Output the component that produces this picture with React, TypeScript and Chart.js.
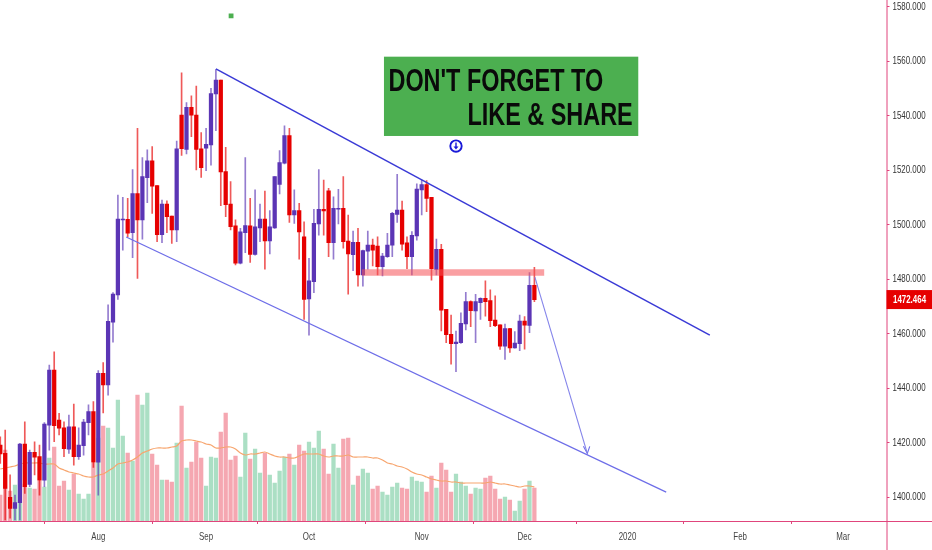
import React, { useEffect, useRef } from "react";
import { Chart, registerables } from "chart.js";

Chart.register(...registerables);

const opens = [1419.1,1416.0,1399.9,1395.8,1397.9,1419.4,1404.6,1416.4,1414.8,1406.2,1426.4,1446.6,1428.2,1425.4,1417.6,1425.8,1414.8,1418.8,1427.3,1431.4,1412.8,1445.4,1441.1,1464.2,1474.2,1501.7,1501.9,1497.0,1511.4,1501.7,1517.2,1523.4,1514.3,1496.3,1507.5,1503.1,1498.0,1540.2,1527.6,1543.0,1540.2,1527.8,1528.0,1529.2,1547.9,1553.0,1519.4,1507.5,1499.5,1485.8,1497.0,1499.5,1489.0,1498.8,1502.0,1494.0,1498.8,1514.7,1522.5,1532.6,1503.5,1505.1,1495.5,1472.7,1479.0,1500.2,1505.6,1512.4,1493.3,1505.6,1505.9,1493.9,1488.9,1493.5,1481.5,1490.2,1492.5,1492.1,1484.5,1488.2,1492.4,1503.7,1505.3,1493.3,1488.2,1495.8,1512.7,1514.7,1510.0,1483.5,1490.9,1468.9,1459.7,1456.3,1456.6,1463.5,1471.7,1468.3,1471.3,1472.9,1472.1,1464.9,1463.2,1455.4,1461.8,1454.7,1456.3,1464.6,1463.0,1477.7];
const closes = [1415.8,1403.2,1395.8,1398.0,1419.4,1403.8,1416.4,1414.6,1406.2,1426.8,1446.6,1426.2,1425.3,1417.7,1425.8,1414.8,1419.1,1427.5,1431.4,1412.8,1445.4,1441.1,1464.5,1474.5,1502.0,1502.0,1496.8,1511.4,1501.7,1517.6,1523.4,1514.1,1496.3,1507.5,1502.9,1498.0,1527.8,1527.8,1543.0,1540.1,1527.6,1520.9,1529.4,1548.1,1553.0,1519.3,1507.3,1499.2,1485.8,1497.3,1499.6,1489.0,1499.2,1502.0,1494.0,1499.2,1517.6,1522.7,1532.6,1503.5,1505.1,1497.3,1472.5,1479.3,1500.4,1505.6,1505.0,1493.3,1505.9,1505.9,1493.7,1489.2,1493.5,1481.5,1490.4,1492.5,1490.6,1484.5,1488.4,1492.5,1504.1,1505.3,1492.8,1488.2,1496.0,1513.0,1514.7,1509.6,1483.8,1490.9,1468.6,1459.6,1456.3,1456.9,1463.7,1471.7,1468.4,1471.7,1472.9,1471.7,1464.7,1462.9,1455.4,1461.8,1454.7,1456.5,1464.6,1463.1,1477.7,1472.464];
const highs = [1422.1,1424.6,1408.1,1400.7,1419.7,1427.6,1417.2,1420.3,1419.1,1427.3,1448.4,1453.3,1430.7,1427.6,1430.1,1434.1,1425.4,1428.5,1433.8,1435.0,1446.4,1449.3,1470.5,1475.0,1510.8,1510.0,1509.6,1520.2,1535.3,1524.6,1527.4,1528.6,1514.3,1509.0,1508.7,1503.1,1530.6,1555.7,1544.8,1547.2,1550.8,1533.7,1535.3,1550.0,1556.9,1553.0,1528.3,1515.8,1501.7,1498.6,1524.6,1509.6,1512.7,1507.5,1512.3,1505.1,1517.6,1527.1,1536.2,1535.3,1512.7,1507.8,1501.0,1487.6,1505.6,1520.2,1516.3,1513.3,1510.2,1512.9,1517.6,1503.5,1497.6,1498.6,1490.6,1497.6,1494.7,1495.5,1489.4,1496.8,1504.5,1518.4,1508.6,1495.5,1497.4,1514.9,1516.3,1516.1,1510.0,1494.7,1492.7,1468.9,1466.8,1460.9,1467.6,1475.1,1472.0,1474.4,1473.1,1479.3,1476.0,1473.8,1463.2,1463.5,1461.9,1460.7,1466.8,1466.2,1482.4,1484.3];
const lows = [1412.3,1391.6,1392.2,1391.6,1391.6,1401.3,1403.8,1408.1,1400.7,1403.8,1417.2,1420.3,1422.8,1414.8,1416.0,1411.7,1413.8,1415.4,1422.8,1410.9,1400.7,1430.9,1437.4,1456.8,1472.5,1490.6,1495.5,1487.8,1480.2,1494.6,1508.0,1504.1,1493.7,1493.3,1497.0,1493.1,1493.7,1525.4,1525.9,1532.2,1520.0,1517.3,1519.8,1521.8,1534.4,1506.9,1502.9,1498.0,1485.2,1485.5,1489.7,1486.1,1488.8,1493.7,1483.6,1489.2,1498.6,1511.2,1522.2,1500.8,1500.4,1487.3,1465.2,1459.4,1475.0,1496.1,1496.1,1488.2,1487.3,1500.2,1491.3,1474.4,1483.1,1477.4,1477.4,1483.6,1484.8,1481.5,1481.1,1487.9,1488.2,1500.8,1490.6,1483.8,1481.5,1494.3,1503.5,1504.7,1479.6,1481.5,1461.0,1456.6,1448.8,1446.0,1456.4,1461.3,1462.5,1456.6,1465.2,1466.4,1462.5,1462.5,1454.2,1450.5,1453.1,1454.6,1453.7,1454.3,1460.3,1471.7];
const volumes = [26,71,30,36,57,37,33,32,40,34,63,74,35,40,31,47,27,22,27,58,83,95,93,73,121,85,68,60,126,116,128,67,56,41,41,39,78,115,53,59,79,63,35,64,63,89,108,61,65,44,88,62,72,48,68,46,38,50,64,67,56,76,70,79,73,90,72,47,77,53,82,83,36,45,52,48,32,35,29,26,34,38,33,32,44,40,39,29,45,33,58,51,29,47,39,35,27,33,32,43,45,32,22,24,21,10,20,32,40,33];
const volumeAverage = [52,53,54,55,57,58,58,58,58,57,57,57,53,51,49,48,47,45,44,44,46,47,50,53,57,58,59,61,64,68,70,72,73,73,73,74,75,80,81,81,80,79,77,76,73,73,74,74,72,68,66,67,67,68,69,67,65,64,64,63,63,65,67,67,67,67,65,64,65,65,65,66,64,64,64,64,63,63,61,58,57,55,54,52,49,47,46,44,42,41,40,40,39,39,38,38,38,38,38,38,39,38,37,37,36,35,34,35,35,34];

const priceTicks = [1400,1420,1440,1460,1480,1500,1520,1540,1560,1580];
const monthTickBars = [20,42,63,86,107,128,151,172];
const monthLabels = ["Aug","Sep","Oct","Nov","Dec","2020","Feb","Mar"];

const upperTrendBars = [44,144.8];
const upperTrendPrices = [1557.1,1459.4];
const lowerTrendBars = [25.7,135.9];
const lowerTrendPrices = [1495.4,1401.8];
const arrowBars = [109.1,119.8];
const arrowPrices = [1480.7,1416];
const arrowHeadBars = [119,119.8,120.3];
const arrowHeadPrices = [1418.6,1416,1418.6];
const resistanceBars = [73.8,111];
const resistancePrices = [1482.4,1482.4];
const lastPrice = 1472.464;
const bannerLines = ["DON'T FORGET TO","LIKE & SHARE"];

const PURPLE = "#5b35b5";
const RED = "#e60000";
const LABEL_FONT = '"Liberation Sans", sans-serif';
const AXIS = "#e0457c";
const CONDENSE = 0.72;
const BANNER_CONDENSE = 0.732;

const bars = opens.map((_, i) => i);
const isUp = (i: number) => closes[i] >= opens[i];

// The axes own the whole frame: no room is reserved for half a tick label.
function noLabelPadding(s: any) {
  s._calculatePadding = () => {};
}

// The reference's labels are condensed; no narrow face is installed, so squeeze the axis's own labels.
function condenseLabels(s: any) {
  if (s.__condensed) return;
  s.__condensed = true;
  const compute = s._computeLabelItems.bind(s);
  const draw = s.drawLabels.bind(s);
  s._computeLabelArea = () => undefined;
  s._computeLabelItems = (area: any) =>
    compute(area).map((it: any) => ({
      ...it,
      options: { ...it.options, translation: [it.options.translation[0] / CONDENSE, it.options.translation[1]] },
    }));
  s.drawLabels = (area: any) => {
    s.ctx.save();
    s.ctx.scale(CONDENSE, 1);
    draw(area);
    s.ctx.restore();
  };
}

const overlayPlugin = {
  id: "overlay",
  afterDatasetsDraw(chart: any) {
    const { ctx, scales } = chart;
    const x = scales.x, y = scales.y;
    const left = x.getPixelForValue(78.3), right = x.getPixelForValue(130.2);
    const top = y.getPixelForValue(1561.6), bottom = y.getPixelForValue(1532.5);
    ctx.save();
    ctx.fillStyle = "#4caf50";
    ctx.fillRect(left, top, right - left, bottom - top);
    ctx.fillStyle = "#0a0a0a";
    ctx.textAlign = "left";
    ctx.textBaseline = "alphabetic";
    ctx.font = `bold 32px ${LABEL_FONT}`;
    const text = (s: string, px: number, py: number) => {
      ctx.save();
      ctx.translate(px, py);
      ctx.scale(BANNER_CONDENSE, 1);
      ctx.fillText(s, 0, 0);
      ctx.restore();
    };
    text(bannerLines[0], left + 4.5, top + 34);
    text(bannerLines[1], left + 83.5, top + 68.5);
    const cx = x.getPixelForValue(93), cy = y.getPixelForValue(1528.8);
    ctx.strokeStyle = "#1a1ad8";
    ctx.fillStyle = "#1a1ad8";
    ctx.lineWidth = 1.4;
    ctx.beginPath();
    ctx.moveTo(cx, cy - 3.5);
    ctx.lineTo(cx, cy + 1);
    ctx.stroke();
    ctx.beginPath();
    ctx.moveTo(cx - 2.5, cy + 0.5);
    ctx.lineTo(cx + 2.5, cy + 0.5);
    ctx.lineTo(cx, cy + 3.5);
    ctx.closePath();
    ctx.fill();
    ctx.restore();
  },
  afterDraw(chart: any) {
    const { ctx, scales, chartArea, width, height } = chart;
    const y = scales.y;
    ctx.save();
    ctx.strokeStyle = AXIS;
    ctx.lineWidth = 1;
    ctx.beginPath();
    ctx.moveTo(chartArea.right + 0.5, 0);
    ctx.lineTo(chartArea.right + 0.5, height);
    ctx.moveTo(0, chartArea.bottom + 0.5);
    ctx.lineTo(width, chartArea.bottom + 0.5);
    ctx.stroke();
    const py = y.getPixelForValue(lastPrice);
    ctx.fillStyle = "#e60000";
    ctx.fillRect(chartArea.right, py - 9.5, width - chartArea.right, 19);
    ctx.fillStyle = "#ffffff";
    ctx.font = `bold 11px ${LABEL_FONT}`;
    ctx.textAlign = "left";
    ctx.textBaseline = "middle";
    ctx.translate(chartArea.right + 6.5, py);
    ctx.scale(CONDENSE, 1);
    ctx.fillText(lastPrice.toFixed(3), 0, 0);
    ctx.restore();
  },
};

export default function App() {
  const ref = useRef<HTMLCanvasElement | null>(null);
  useEffect(() => {
    document.body.style.margin = "0";
    const pts = (xs: number[], ys: number[]) => xs.map((v, i) => ({ x: v, y: ys[i] }));
    const line = (xs: number[], ys: number[], color: string, w: number, order: number) => ({
      type: "line", data: pts(xs, ys), borderColor: color, borderWidth: w, pointRadius: 0,
      yAxisID: "y", order, tension: 0,
    });
    const chart = new Chart(ref.current as HTMLCanvasElement, {
      type: "bar",
      plugins: [overlayPlugin],
      data: {
        datasets: [
          {
            label: "Volume", yAxisID: "yVol", order: 10, barThickness: 3.6, grouped: false,
            data: bars.map((i) => ({ x: i, y: volumes[i] })),
            backgroundColor: bars.map((i) => (isUp(i) ? "#abdfc4" : "#f5a7b1")),
          },
          {
            type: "line", label: "Volume MA", yAxisID: "yVol", order: 9, pointRadius: 0,
            borderColor: "#f7a56e", borderWidth: 1.2, tension: 0.3,
            data: bars.map((i) => ({ x: i, y: volumeAverage[i] })),
          },
          {
            label: "Wick", yAxisID: "y", order: 8, barThickness: 1, grouped: false,
            data: bars.map((i) => ({ x: i, y: [lows[i], highs[i]] })),
            backgroundColor: bars.map((i) => (isUp(i) ? "rgba(91,53,181,0.65)" : "rgba(230,0,0,0.65)")),
          },
          {
            label: "Body", yAxisID: "y", order: 7, barThickness: 3.6, grouped: false,
            data: bars.map((i) => ({ x: i, y: [opens[i], closes[i]] })),
            backgroundColor: bars.map((i) => (isUp(i) ? PURPLE : RED)),
          },
          line(resistanceBars, resistancePrices, "rgba(245,80,85,0.55)", 6.5, 5),
          line(upperTrendBars, upperTrendPrices, "#3a3ad6", 1.5, 4),
          line(lowerTrendBars, lowerTrendPrices, "#6d6de8", 1.2, 4),
          line(arrowBars, arrowPrices, "#8484ea", 1.1, 4),
          line(arrowHeadBars, arrowHeadPrices, "#6d6de8", 1.1, 4),
          {
            type: "line", label: "Signal", yAxisID: "y", order: 3, showLine: false,
            data: [{ x: 47.1, y: 1576.6 }],
            pointStyle: "rect", pointRadius: 3.4, backgroundColor: "#4caf50", borderWidth: 0,
          },
          {
            type: "line", label: "Event", yAxisID: "y", order: 3, showLine: false,
            data: [{ x: 93, y: 1528.8 }],
            pointStyle: "circle", pointRadius: 5.7, backgroundColor: "#ffffff",
            borderColor: "#1a1ad8", borderWidth: 1.9,
          },
        ] as any,
      },
      options: {
        animation: false,
        responsive: false,
        devicePixelRatio: 1,
        plugins: { legend: { display: false }, tooltip: { enabled: false } },
        layout: { padding: 0, autoPadding: false },
        scales: {
          x: {
            type: "linear", min: -0.06, max: 180.86, offset: false,
            grid: { drawOnChartArea: false, drawTicks: true, tickLength: 3, color: AXIS },
            border: { display: false },
            afterBuildTicks: (s: any) => { s.ticks = monthTickBars.map((v) => ({ value: v })); },
            beforeFit: noLabelPadding,
            afterFit: (s: any) => { s.height = 29; condenseLabels(s); },
            ticks: {
              autoSkip: false, maxRotation: 0, padding: 6, color: "#444", font: { family: LABEL_FONT, size: 11 },
              callback: (v: any) => { const j = monthTickBars.indexOf(v); return j >= 0 ? monthLabels[j] : ""; },
            },
          },
          y: {
            type: "linear", position: "right", min: 1391.2, max: 1582.4,
            grid: { drawOnChartArea: false, drawTicks: true, tickLength: 3, color: AXIS },
            border: { display: false },
            afterBuildTicks: (s: any) => { s.ticks = priceTicks.map((v) => ({ value: v })); },
            beforeFit: noLabelPadding,
            afterFit: (s: any) => { s.width = 45.5; condenseLabels(s); },
            ticks: {
              padding: 3, color: "#333", font: { family: LABEL_FONT, size: 11 },
              callback: (v: any) => Number(v).toFixed(3),
            },
          },
          yVol: { type: "linear", display: false, min: 0, max: 521 },
        },
      } as any,
    });
    return () => chart.destroy();
  }, []);
  return <canvas ref={ref} width={932} height={550} style={{ display: "block" }} />;
}
